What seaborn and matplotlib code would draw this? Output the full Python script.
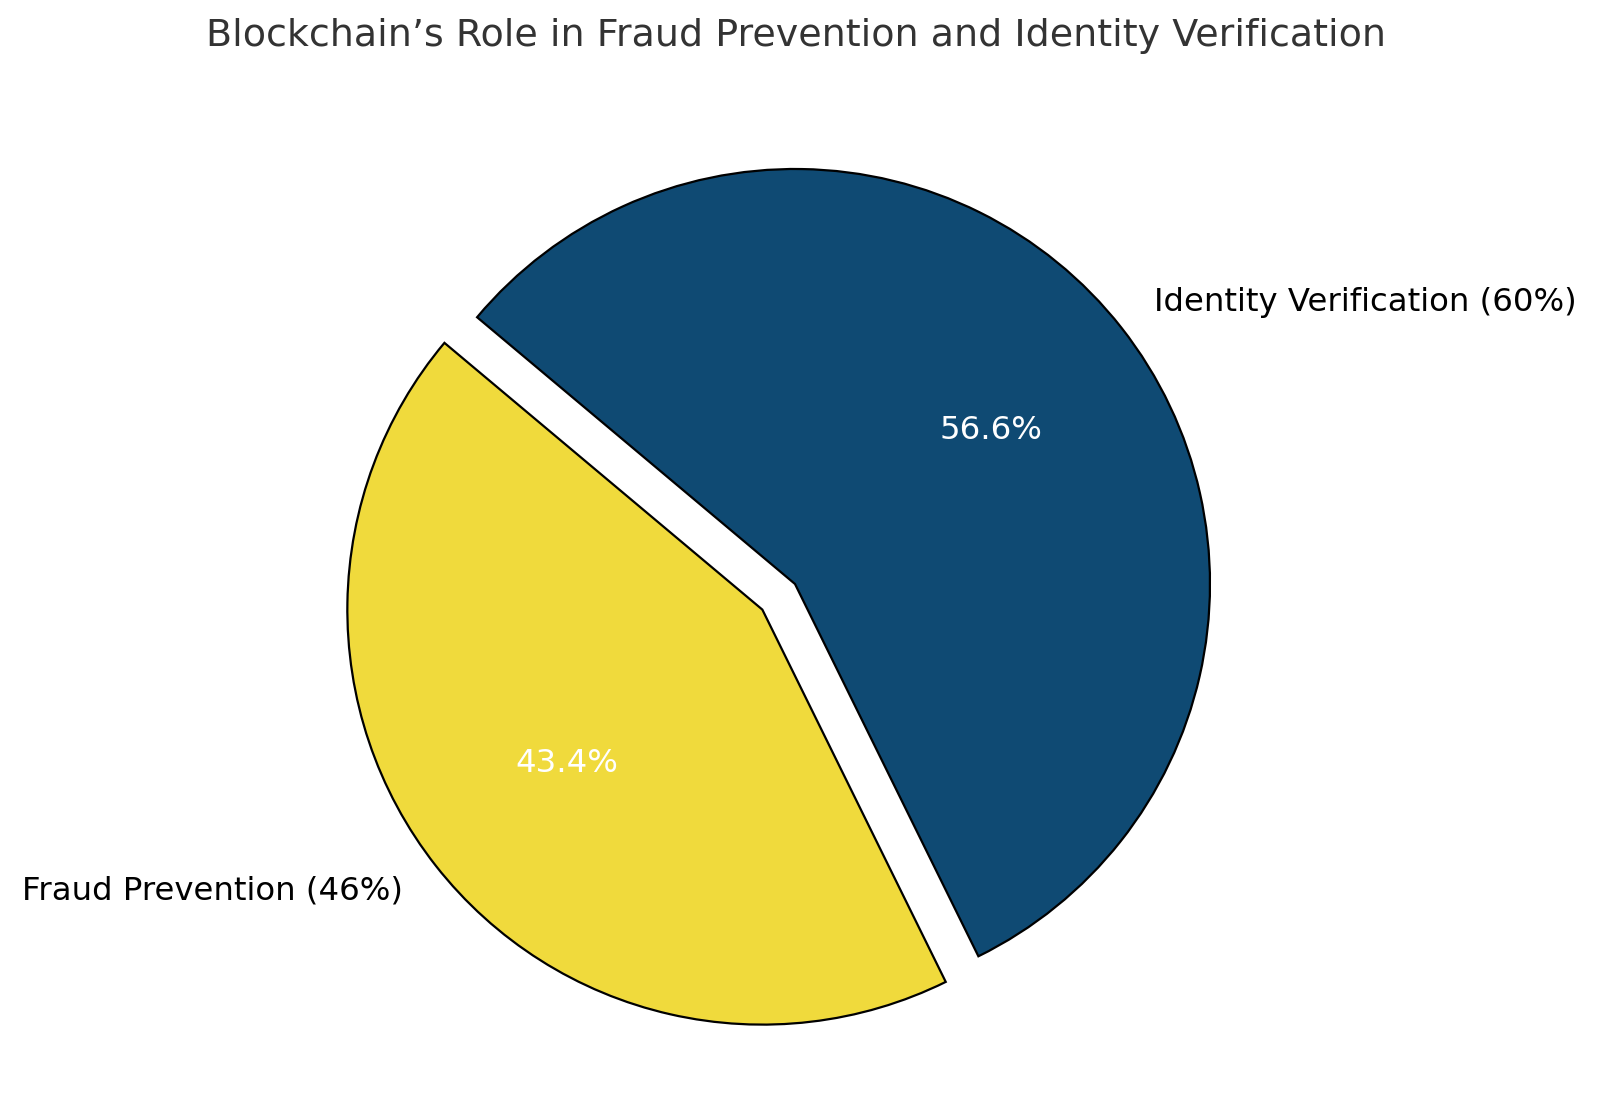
import matplotlib
matplotlib.use("Agg")
import matplotlib.pyplot as plt
import seaborn as sns

sns.set_theme(style="white")
plt.rcParams['font.family'] = ['DejaVu Sans']

# Data
categories = ["Fraud Prevention (46%)", "Identity Verification (60%)"]
values = [46, 60]
colors = ["#f0da3c", "#0f4a73"]
explode = [0.1, 0]

fig = plt.figure(figsize=(10, 7), dpi=160)
ax = fig.add_axes([0, 0, 1, 1])

wedges, texts, autotexts = ax.pie(
    values,
    labels=categories,
    colors=colors,
    explode=explode,
    startangle=140,
    autopct="%1.1f%%",
    wedgeprops={"edgecolor": "black", "linewidth": 1},
    textprops={"fontsize": 14.6, "color": "black"},
)
for t in autotexts:
    t.set_color("white")

# place the pie like the reference (radius ~415 px, centre at 795,584)
r = 415
cx, cy = 795, 584
ax.set_xlim(-cx / r, (1600 - cx) / r)
ax.set_ylim(-(1120 - cy) / r, cy / r)
ax.set_aspect("equal")
ax.axis("off")

fig.text(796 / 1600, 1 - 36 / 1120, "Blockchain’s Role in Fraud Prevention and Identity Verification",
         ha="center", va="center", fontsize=17.1, color="#333333")

fig.savefig("out.png", dpi=160)
